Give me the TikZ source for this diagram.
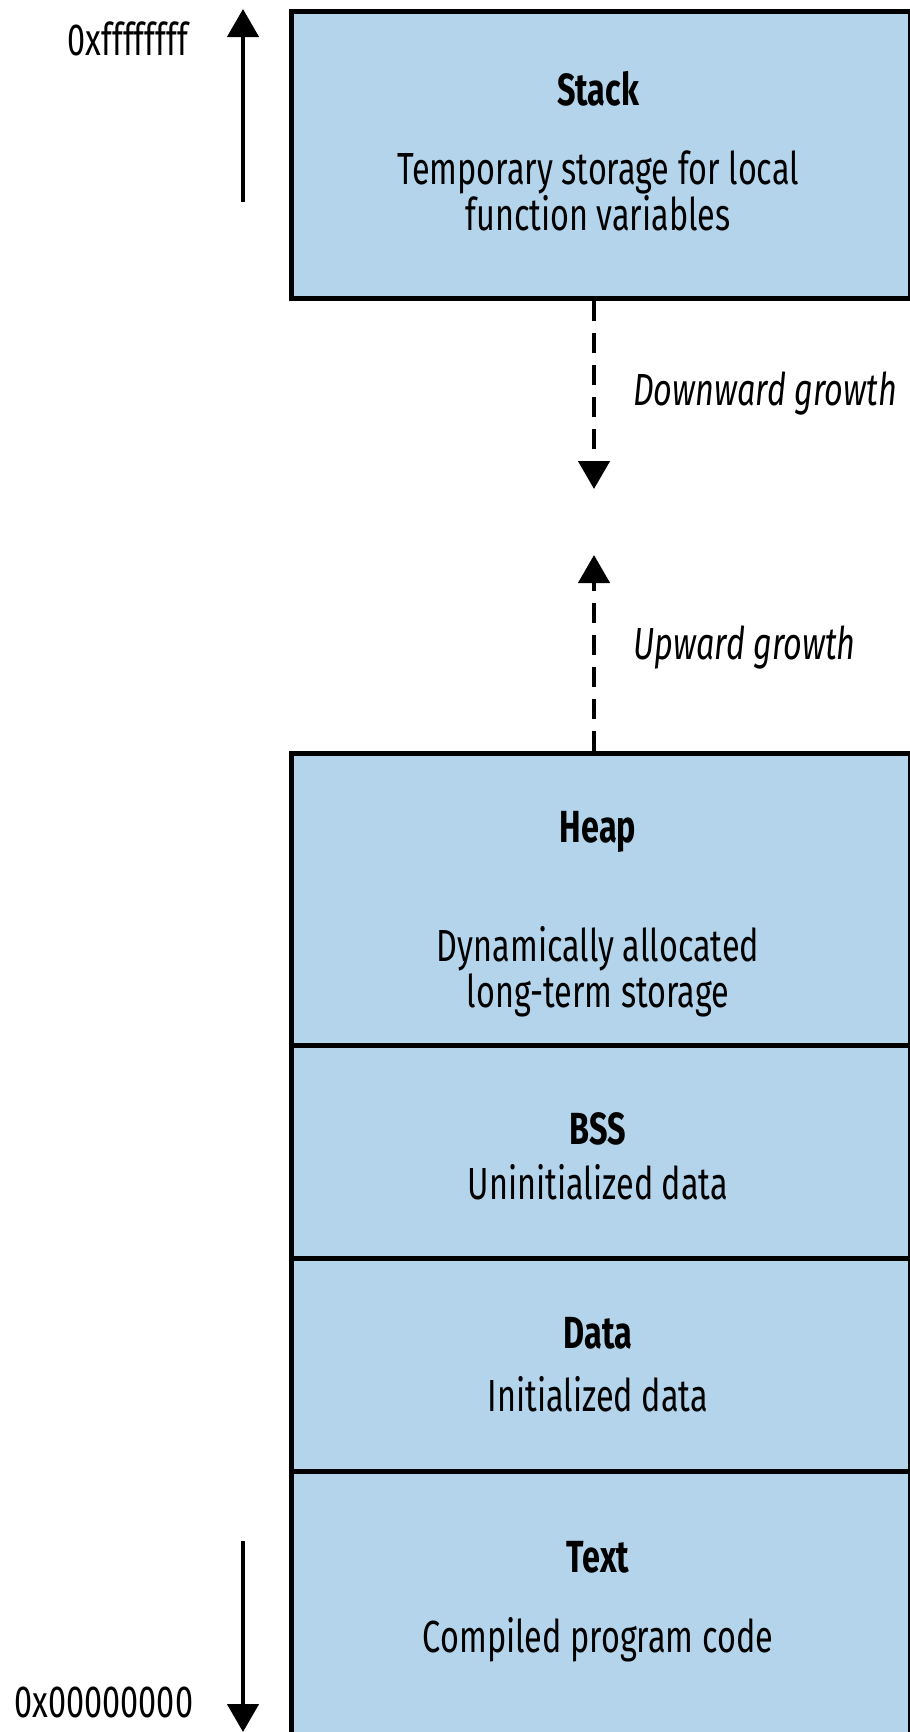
\documentclass[tikz,border=0pt]{standalone}
\usepackage{fontspec}
\setmainfont{Fira Sans}[FakeStretch=0.72]
\usetikzlibrary{arrows.meta}

\definecolor{segblue}{RGB}{179,212,234}

\tikzset{
  segbox/.style={draw, fill=segblue, line width=4.5pt, inner sep=0pt,
    anchor=north west, minimum width=619pt},
  segtitle/.style={font=\bfseries, inner sep=0pt},
  segtext/.style={align=center, inner sep=0pt},
  growth/.style={line width=4.5pt, dash pattern=on 20pt off 12pt,
    -{Triangle[width=31pt,length=28pt]}},
  addr/.style={line width=4.5pt, -{Triangle[width=31pt,length=28pt]}}
}

\begin{document}
\begin{tikzpicture}[x=1pt, y=-1pt]
      \fontsize{45}{46}\selectfont
      \useasboundingbox (0,0) rectangle (910,1732);

      %%% memory segments %%%
      \node (stack) at (289,9) [segbox, minimum height=287pt] {};
      \node (heap) at (289,751) [segbox, minimum height=292pt] {};
      \node (bss) at (289,1043) [segbox, minimum height=213pt] {};
      \node (data) at (289,1256) [segbox, minimum height=213pt] {};
      \node (text) at (289,1469) [segbox, minimum height=263pt] {};

      \node (stackT) at (598,89) [segtitle] {Stack};
      \node (stackD) at (598,191) [segtext] {Temporary storage for local\\function variables};
      \node (heapT) at (598,832) [segtitle] {Heap};
      \node (heapD) at (598,972) [segtext] {Dynamically allocated\\long-term storage};
      \node (bssT) at (598,1129) [segtitle] {BSS};
      \node (bssD) at (598,1182) [segtext] {Uninitialized data};
      \node (dataT) at (598,1333) [segtitle] {Data};
      \node (dataD) at (598,1394) [segtext] {Initialized data};
      \node (textT) at (598,1557) [segtitle] {Text};
      \node (textD) at (598,1640) [segtext] {Compiled program code};

      % growth of stack and heap
      \coordinate (downtip) at (594,489);
      \coordinate (uptip) at (594,555);
      \draw[growth] (stack.south -| downtip) to (downtip);
      \draw[growth] (heap.north -| uptip) to (uptip);
      \node (down) at (633,394) [anchor=west, inner sep=0pt] {\itshape Downward growth};
      \node (up) at (633,648) [anchor=west, inner sep=0pt] {\itshape Upward growth};

      % address range
      \coordinate (hibot) at (243,202);
      \coordinate (hitop) at (243,9);
      \coordinate (lotop) at (243,1541);
      \coordinate (lobot) at (243,1732);
      \draw[addr] (hibot) to (hitop);
      \draw[addr] (lotop) to (lobot);
      \node (hiaddr) at (128,39) [inner sep=0pt] {0xffffffff};
      \node (loaddr) at (104,1702) [inner sep=0pt] {0x00000000};

\end{tikzpicture}
\end{document}
